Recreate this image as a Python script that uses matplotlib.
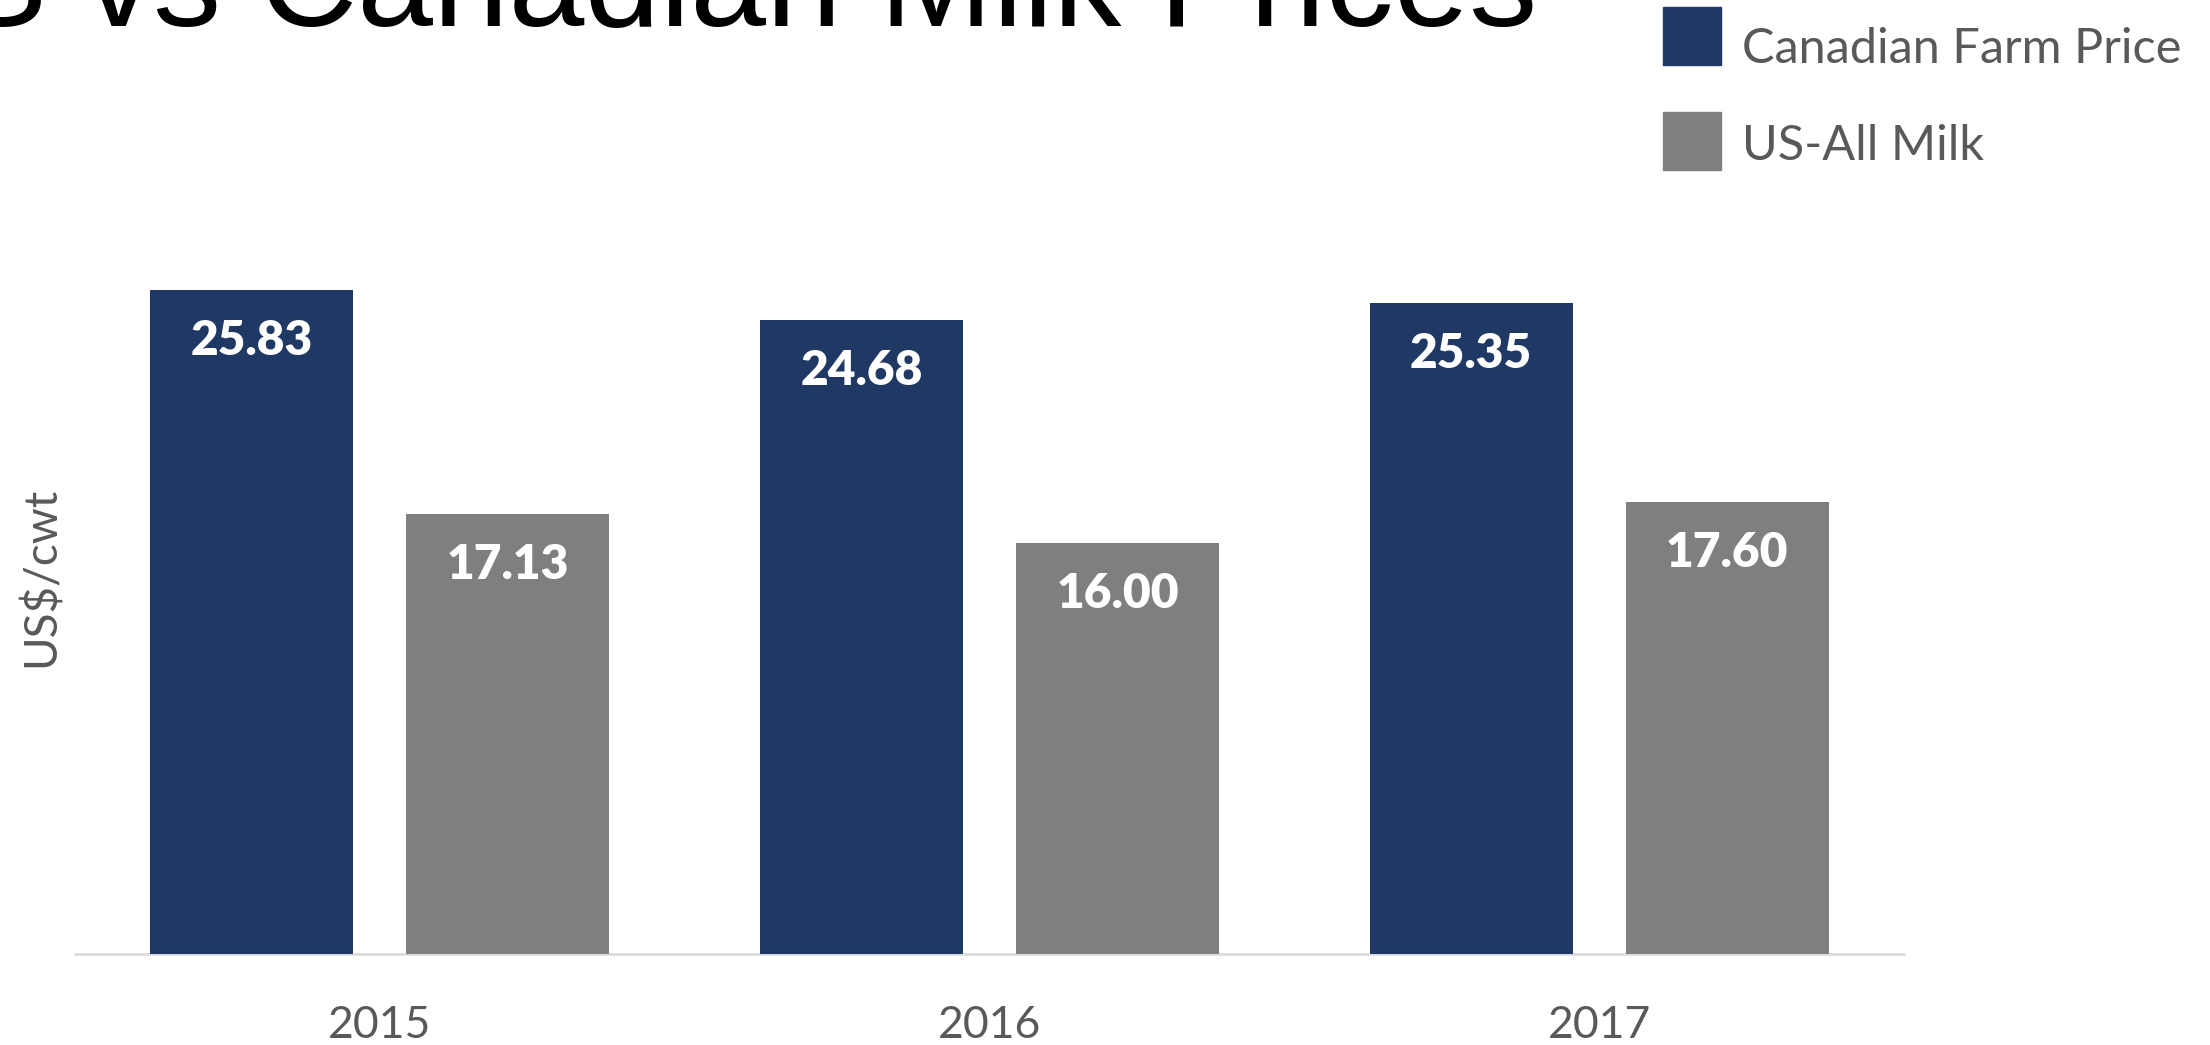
import numpy as np
import matplotlib
matplotlib.use('Agg')
import matplotlib.pyplot as plt
from matplotlib.patches import Rectangle

# data
years = ['2015', '2016', '2017']
canadian_price = [25.83, 24.68, 25.35]
us_all_milk = [17.13, 16.00, 17.60]
series_names = ['Canadian Farm Price', 'US-All Milk']
colors = ['#203864', '#7f7f7f']

BODY = ['Lato', 'DejaVu Sans']
TXT_GRAY = '#595959'

W, H = 2210, 1045
fig = plt.figure(figsize=(W / 100, H / 100), dpi=100)

# axes placed in pixel terms (bottom axis line at y=954 px)
ax = fig.add_axes([75 / W, 1 - 954 / H, 1829 / W, 754 / H])
x = np.arange(len(years))
bw = 0.333
off = 0.21
for vals, c, dx in zip([canadian_price, us_all_milk], colors, [-off, off]):
    bars = ax.bar(x + dx, vals, bw, color=c, zorder=2)
    for b, v in zip(bars, vals):
        ax.annotate(f'{v:.2f}', (b.get_x() + b.get_width() / 2, v),
                    xytext=(0, -46.8), textcoords='offset points',
                    ha='center', va='baseline', color='white',
                    fontsize=34.5, fontweight='heavy', family=BODY)

ax.set_xlim(-0.5, 2.5)
ax.set_ylim(0, 754 / 25.7)
ax.set_xticks(x, years)
ax.tick_params(axis='x', length=0, pad=37, labelsize=32, labelcolor=TXT_GRAY)
for lab in ax.get_xticklabels():
    lab.set_family(BODY)
ax.set_yticks([])
for s in ['left', 'right', 'top']:
    ax.spines[s].set_visible(False)
ax.spines['bottom'].set_color('#d9d9d9')
ax.spines['bottom'].set_linewidth(1.8)
ax.spines['bottom'].set_zorder(1)

ax.set_ylabel('US$/cwt', fontsize=33, color=TXT_GRAY, family=BODY)
ax.yaxis.set_label_coords(-0.0066, 0.5)

# title, partly cut off at the top edge as in the slide
fig.text(1537 / W, 1 - 26 / H, 'US vs Canadian Milk Prices', ha='right',
         va='baseline', fontsize=98, family=['Liberation Sans', 'DejaVu Sans'],
         color='black')

# legend drawn by hand at the top right
sq_top = [7, 112]
txt_base = [63, 160]
for name, c, t, tb in zip(series_names, colors, sq_top, txt_base):
    fig.patches.append(Rectangle((1663 / W, 1 - (t + 58) / H), 58 / W, 58 / H,
                                 transform=fig.transFigure, color=c))
    fig.text(1742 / W, 1 - tb / H, name, ha='left', va='baseline',
             fontsize=35, color=TXT_GRAY, family=BODY)

fig.savefig('out.png', dpi=100)
